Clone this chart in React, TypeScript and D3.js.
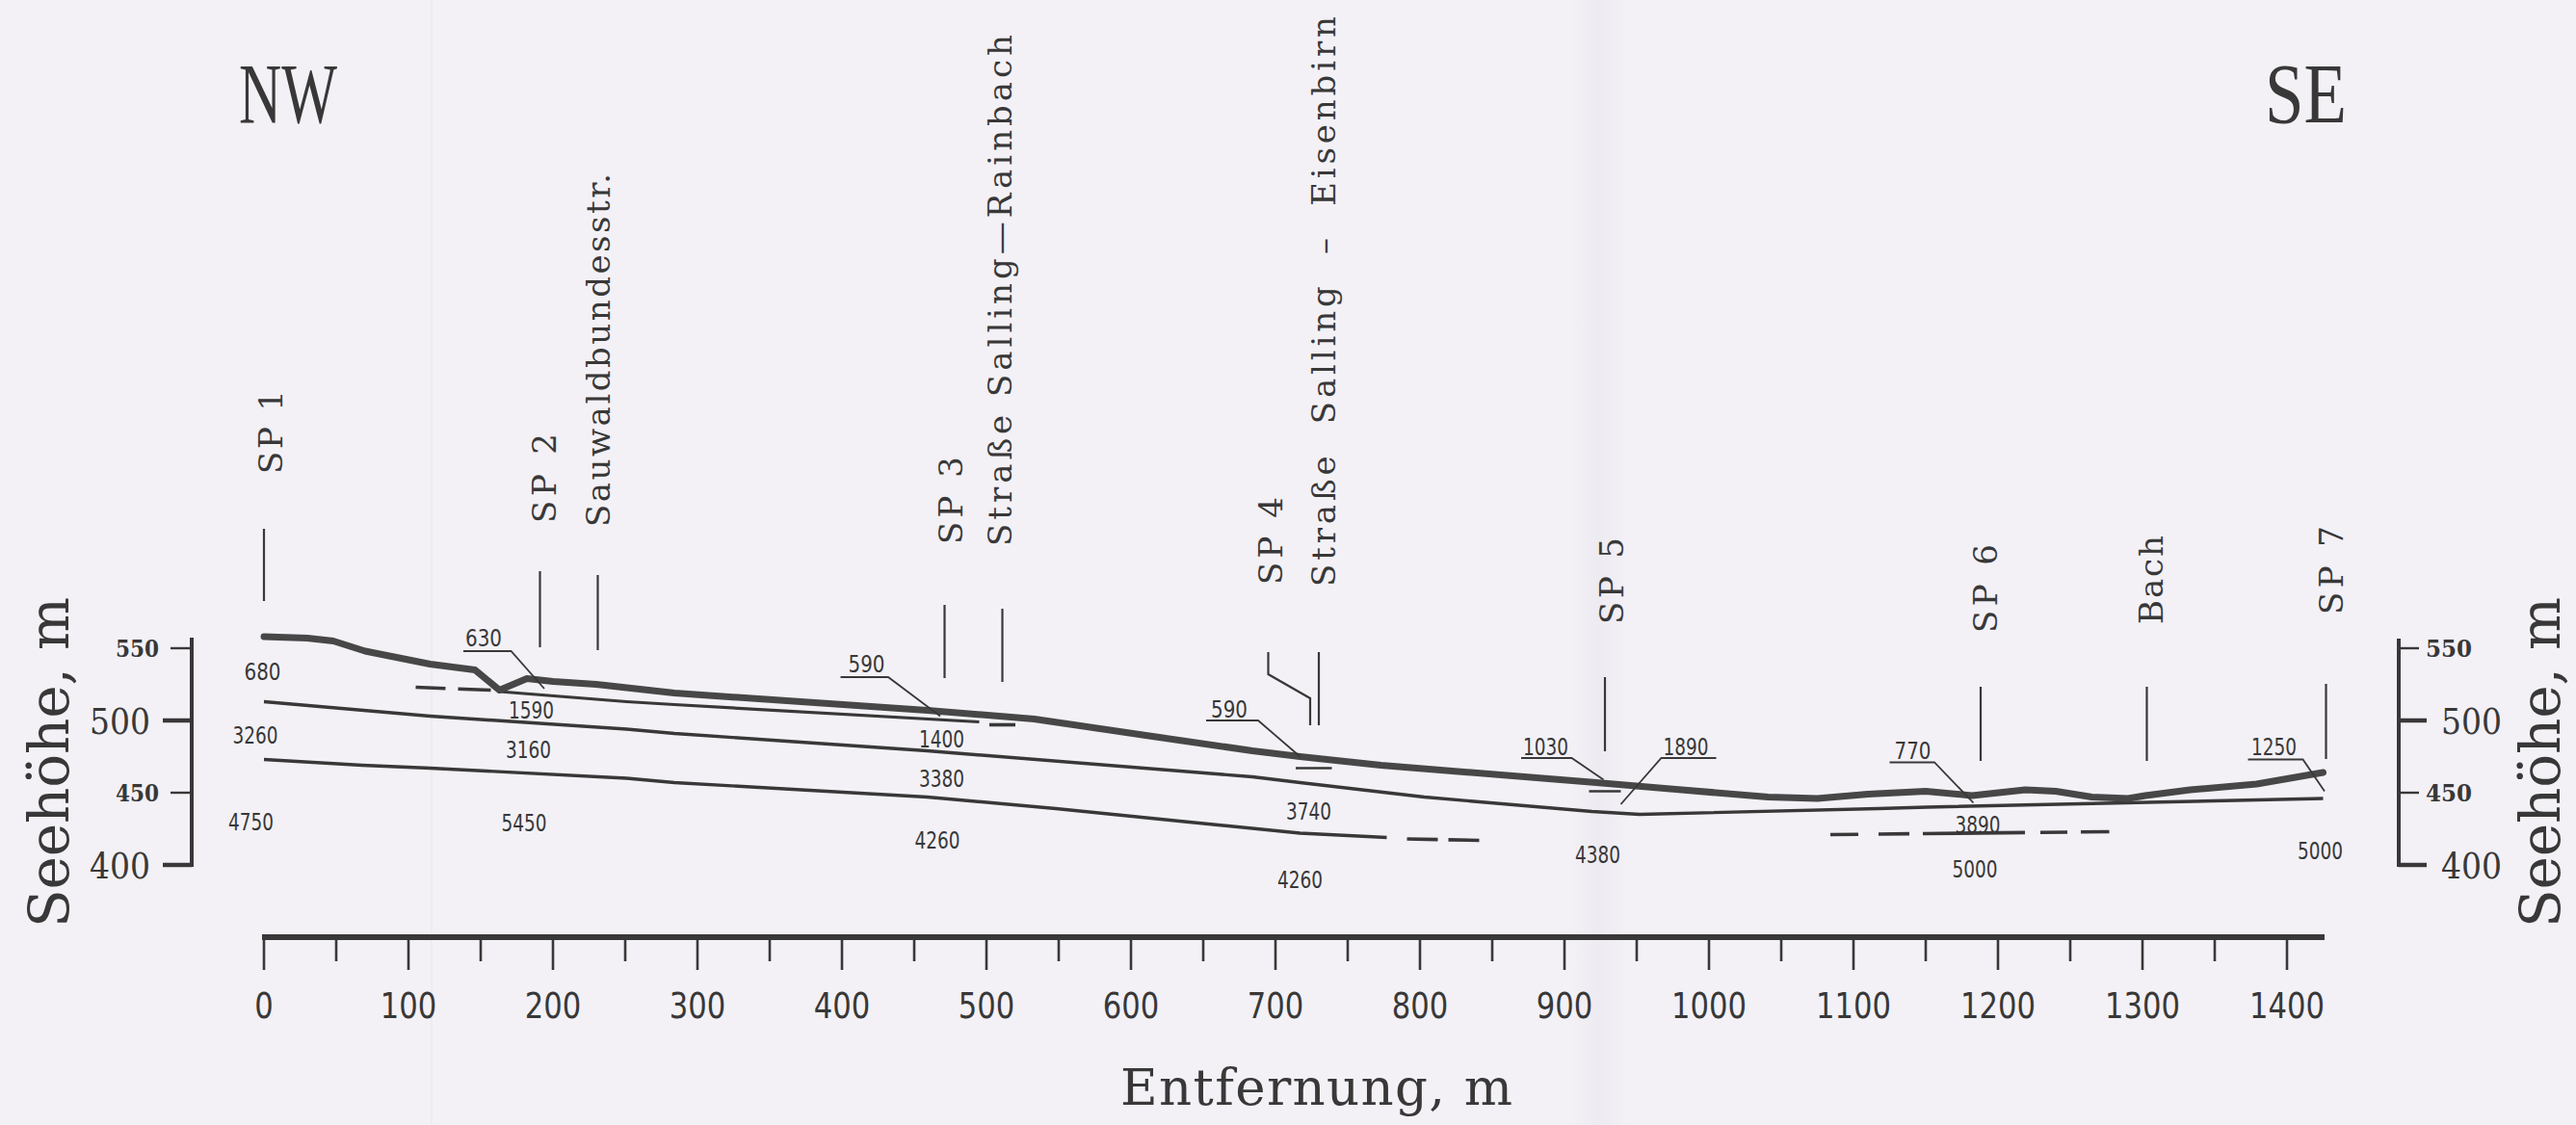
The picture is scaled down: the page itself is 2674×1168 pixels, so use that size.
import React from "react";
import * as d3 from "d3";

const WIDTH = 2674;
const HEIGHT = 1168;

// ---------------- data ----------------
const distanceTicks = [0, 50, 100, 150, 200, 250, 300, 350, 400, 450, 500, 550, 600, 650, 700, 750, 800, 850, 900, 950, 1000, 1050, 1100, 1150, 1200, 1250, 1300, 1350, 1400];
const distanceLabels = [0, 100, 200, 300, 400, 500, 600, 700, 800, 900, 1000, 1100, 1200, 1300, 1400];
const elevationTicks = [400, 450, 500, 550];
const elevationMajor = [400, 500];

// [distance m, elevation m]
const groundSurface: [number, number][] = [
  [0, 558], [30, 557], [48, 555], [70, 548], [115, 539], [146, 535], [163, 521], [182, 529], [200, 527],
  [230, 525], [284, 519], [459, 507], [533, 501], [608, 490], [684, 479], [717, 475], [773, 469], [922, 457],
  [981, 452], [1041, 447], [1075, 446], [1110, 449], [1150, 451], [1182, 448], [1219, 452], [1240, 451],
  [1265, 447], [1290, 446], [1302, 448], [1333, 452], [1379, 456], [1425, 464],
];
const layer1590Base: [number, number][] = [[163, 520], [251, 513], [284, 511], [495, 499]];
const layer1590BaseDashA: [number, number][] = [[105, 523], [157, 521]];
const layer1590BaseDashB: [number, number][] = [[502, 497], [520, 497]];
const layer590Base: [number, number][] = [[714, 467], [739, 467]];
const layer1030Base: [number, number][] = [[917, 451], [939, 451]];
const refractor2Top: [number, number][] = [
  [0, 513], [115, 503], [251, 494], [284, 491], [459, 479], [684, 461], [717, 457], [803, 447], [919, 437],
  [952, 435], [1117, 439], [1151, 440], [1425, 446],
];
const refractor3Top: [number, number][] = [
  [0, 473], [68, 469], [115, 467], [251, 460], [284, 457], [459, 447], [548, 439], [637, 430], [717, 422],
  [777, 419],
];
const refractor3TopDashA: [number, number][] = [[791, 418], [842, 417]];
const refractor3TopDashB: [number, number][] = [[1084, 421], [1277, 423]];

const velocityText = ["680", "630", "1590", "3260", "3160", "4750", "5450", "590", "1400", "3380", "4260", "590", "3740", "4260", "1030", "1890", "4380", "770", "3890", "5000", "1250", "5000"];
const velocityAt: [number, number][] = [
  [-1, 534], [152, 557], [185, 507], [-6, 490], [183, 480], [-9, 430], [180, 429], [417, 539], [469, 487],
  [469, 460], [466, 417], [668, 508], [723, 437], [717, 390], [887, 482], [984, 482], [923, 407], [1141, 479],
  [1186, 428], [1184, 397], [1391, 482], [1423, 410],
];
const leaderLines: [number, number][][] = [
  [[138, 548], [171, 548], [194, 522]],
  [[399, 530], [432, 530], [468, 503]],
  [[652, 500], [688, 500], [717, 475]],
  [[870, 474], [905, 474], [927, 459]],
  [[1005, 474], [967, 474], [939, 442]],
  [[1125, 471], [1156, 471], [1183, 443]],
  [[1373, 473], [1411, 473], [1426, 451]],
];

const stationNames = ["SP\u00A01", "SP\u00A02", "Sauwaldbundesstr.", "SP\u00A03", "Straße\u00A0Salling—Rainbach", "SP\u00A04", "Straße\u00A0\u00A0Salling\u00A0\u00A0–\u00A0\u00A0Eisenbirn", "SP\u00A05", "SP\u00A06", "Bach", "SP\u00A07"];
const stationDist = [0, 191, 231, 471, 511, 695, 730, 928, 1188, 1303, 1427];
const stationFoot = [0, 191, 231, 471, 511, 724, 730, 928, 1188, 1303, 1427];

// ---------------- layout ----------------
const markerTop = [549, 593, 597, 628, 632, 677, 677, 703, 713, 713, 710];
const markerBottom = [624, 672, 675, 704, 708, 753, 753, 780, 790, 790, 788];
const labelBaseX = [293, 577, 633, 999, 1050, 1331, 1386, 1685, 2073, 2245, 2432];
const labelBottomY = [492, 543, 547, 565, 567, 607, 609, 648, 657, 648, 638];
const labelLength = [87, 93, 367, 91, 531, 91, 592, 90, 92, 92, 92];

const INK = "#383838";
const TEXT = "#383838";

export default function App() {
  const x = d3.scaleLinear().domain([0, 1400]).range([274, 2374]);
  const y = d3.scaleLinear().domain([400, 550]).range([898, 673]);
  const line = d3.line<[number, number]>().x((d) => x(d[0])).y((d) => y(d[1]));

  const axisY = 973;
  const leftAxisX = 199;
  const rightAxisX = 2490;

  return (
    <svg
      width={WIDTH}
      height={HEIGHT}
      viewBox={`0 0 ${WIDTH} ${HEIGHT}`}
      style={{ position: "absolute", left: 0, top: 0, display: "block" }}
    >
      <defs>
        <linearGradient id="fold" x1="0" x2="1" y1="0" y2="0">
          <stop offset="0" stopColor="#e6e3eb" stopOpacity="0" />
          <stop offset="0.5" stopColor="#e6e3eb" stopOpacity="0.45" />
          <stop offset="1" stopColor="#e6e3eb" stopOpacity="0" />
        </linearGradient>
      </defs>
      <rect x={0} y={0} width={WIDTH} height={HEIGHT} fill="#f3f1f6" />
      <rect x={1630} y={0} width={60} height={HEIGHT} fill="url(#fold)" />
      <rect x={447} y={0} width={2} height={HEIGHT} fill="#eeebf1" />

      {/* NW / SE */}
      <text x={248} y={127} fontFamily="Liberation Serif, serif" fontSize={88} fill={TEXT} textLength={102} lengthAdjust="spacingAndGlyphs">NW</text>
      <text x={2351} y={127} fontFamily="Liberation Serif, serif" fontSize={88} fill={TEXT} textLength={85} lengthAdjust="spacingAndGlyphs">SE</text>

      {/* Station markers */}
      {stationNames.map((name, i) => {
        const xt = x(stationDist[i]);
        const xf = x(stationFoot[i]);
        const pts =
          xt === xf
            ? `${xt},${markerTop[i]} ${xt},${markerBottom[i]}`
            : `${xt},${markerTop[i]} ${xt},700 ${xf},725 ${xf},${markerBottom[i]}`;
        return (
          <g key={"st" + i}>
            <polyline points={pts} fill="none" stroke={INK} strokeWidth={2.2} />
            <text
              transform={`translate(${labelBaseX[i]},${labelBottomY[i]}) rotate(-90)`}
              fontFamily="DejaVu Serif, serif"
              fontSize={34}
              fill={TEXT}
              textLength={labelLength[i]}
              lengthAdjust="spacing"
            >
              {name}
            </text>
          </g>
        );
      })}

      {/* Layer boundaries */}
      <path d={line(refractor3Top) || ""} fill="none" stroke={INK} strokeWidth={3.4} strokeLinejoin="round" />
      <path d={line(refractor3TopDashA) || ""} fill="none" stroke={INK} strokeWidth={3.6} strokeDasharray="32 11" />
      <path d={line(refractor3TopDashB) || ""} fill="none" stroke={INK} strokeWidth={3.6} strokeDasharray="29 21 32 14 106 16 28 14 30 40" />
      <path d={line(refractor2Top) || ""} fill="none" stroke={INK} strokeWidth={3.4} strokeLinejoin="round" />
      <path d={line(layer1590Base) || ""} fill="none" stroke={INK} strokeWidth={3.2} strokeLinejoin="round" />
      <path d={line(layer1590BaseDashA) || ""} fill="none" stroke={INK} strokeWidth={3.6} strokeDasharray="31 13 34 20" />
      <path d={line(layer1590BaseDashB) || ""} fill="none" stroke={INK} strokeWidth={3.6} />
      <path d={line(layer590Base) || ""} fill="none" stroke={INK} strokeWidth={2.6} />
      <path d={line(layer1030Base) || ""} fill="none" stroke={INK} strokeWidth={2.6} />

      {/* Ground surface */}
      <path d={line(groundSurface) || ""} fill="none" stroke="#474747" strokeWidth={7} strokeLinejoin="round" strokeLinecap="round" />

      {/* Leaders */}
      {leaderLines.map((l, i) => (
        <path key={"ld" + i} d={line(l) || ""} fill="none" stroke={INK} strokeWidth={1.8} />
      ))}

      {/* Velocity labels */}
      {velocityText.map((t, i) => (
        <text
          key={"v" + i}
          x={x(velocityAt[i][0])}
          y={y(velocityAt[i][1]) + 8.5}
          textAnchor="middle"
          fontFamily="DejaVu Sans, sans-serif"
          fontSize={24}
          fill={TEXT}
          textLength={t.length === 3 ? 38 : 47}
          lengthAdjust="spacingAndGlyphs"
        >
          {t}
        </text>
      ))}

      {/* Left elevation axis */}
      <line x1={leftAxisX} x2={leftAxisX} y1={662} y2={y(400) + 2} stroke={INK} strokeWidth={4} />
      {elevationTicks.map((v) => {
        const major = elevationMajor.includes(v);
        return (
          <g key={"l" + v}>
            <line x1={major ? 169 : 177} x2={leftAxisX} y1={y(v)} y2={y(v)} stroke={INK} strokeWidth={major ? 4.5 : 2.4} />
            <text
              x={major ? 156 : 165}
              y={y(v) + (major ? 13.5 : 9)}
              textAnchor="end"
              fontFamily="DejaVu Serif, serif"
              fontWeight={major ? 400 : 700}
              fontSize={major ? 37 : 24}
              fill={TEXT}
              textLength={major ? 63 : 45}
              lengthAdjust="spacingAndGlyphs"
            >
              {v}
            </text>
          </g>
        );
      })}

      {/* Right elevation axis */}
      <line x1={rightAxisX} x2={rightAxisX} y1={663} y2={y(400) + 2} stroke={INK} strokeWidth={4} />
      {elevationTicks.map((v) => {
        const major = elevationMajor.includes(v);
        return (
          <g key={"r" + v}>
            <line x1={rightAxisX} x2={major ? 2519 : 2511} y1={y(v)} y2={y(v)} stroke={INK} strokeWidth={major ? 4.5 : 2.4} />
            <text
              x={major ? 2534 : 2518}
              y={y(v) + (major ? 13.5 : 9)}
              textAnchor="start"
              fontFamily="DejaVu Serif, serif"
              fontWeight={major ? 400 : 700}
              fontSize={major ? 37 : 24}
              fill={TEXT}
              textLength={major ? 63 : 48}
              lengthAdjust="spacingAndGlyphs"
            >
              {v}
            </text>
          </g>
        );
      })}

      {/* Axis titles for elevation */}
      <text transform="translate(71,963) rotate(-90)" fontFamily="DejaVu Serif, serif" fontSize={58} fill={TEXT} textLength={343} lengthAdjust="spacing">
        Seehöhe, m
      </text>
      <text transform="translate(2657,963) rotate(-90)" fontFamily="DejaVu Serif, serif" fontSize={58} fill={TEXT} textLength={343} lengthAdjust="spacing">
        Seehöhe, m
      </text>

      {/* Distance axis */}
      <line x1={x(0) - 2} x2={2413} y1={axisY} y2={axisY} stroke={INK} strokeWidth={6} />
      {distanceTicks.map((d) => {
        const major = d % 100 === 0;
        return (
          <line key={"t" + d} x1={x(d)} x2={x(d)} y1={axisY} y2={major ? 1007 : 998} stroke={INK} strokeWidth={2.6} />
        );
      })}
      {distanceLabels.map((d) => {
        const s = String(d);
        return (
          <text
            key={"tl" + d}
            x={x(d)}
            y={1057}
            textAnchor="middle"
            fontFamily="DejaVu Sans, sans-serif"
            fontSize={37}
            fill={TEXT}
            textLength={s.length * 19.5}
            lengthAdjust="spacingAndGlyphs"
          >
            {s}
          </text>
        );
      })}
      <text x={1163} y={1147} fontFamily="DejaVu Serif, serif" fontSize={53} fill={TEXT} textLength={407} lengthAdjust="spacing">
        Entfernung, m
      </text>
    </svg>
  );
}
